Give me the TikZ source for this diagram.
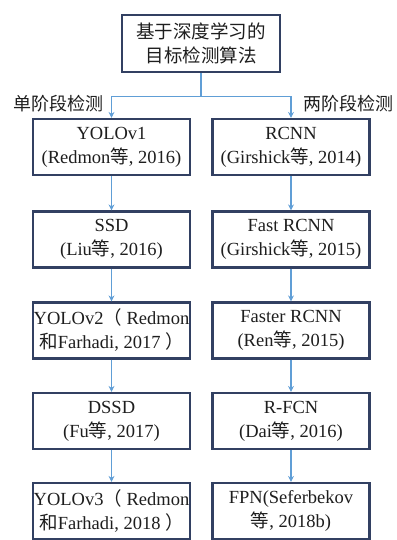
\documentclass[tikz,border=0pt]{standalone}
\usepackage{fontspec}
\setmainfont{Liberation Serif}
\newfontfamily\latinserif{Liberation Serif}
\newfontfamily\cjk{Noto Sans CJK SC}
\usetikzlibrary{arrows.meta}
\newcommand\zh[1]{{\cjk #1}}
\definecolor{boxline}{RGB}{50,64,98}
\definecolor{linkblue}{RGB}{96,158,214}
\definecolor{inkgray}{RGB}{30,30,30}
\tikzset{
  methodbox/.style={draw=boxline, line width=2.2bp, fill=white, minimum width=157bp,
    minimum height=56bp, inner sep=1bp, align=center, text=inkgray,
    font=\latinserif\fontsize{18.5bp}{24bp}\selectfont},
  link/.style={draw=linkblue, line width=1.1bp},
  linkarrow/.style={link, -{Stealth[length=6bp,width=6bp]}},
  branchlabel/.style={text=inkgray, inner sep=0pt, font=\fontsize{18bp}{24bp}\selectfont}
}
\begin{document}
\begin{tikzpicture}[x=1bp,y=-1bp]
  \useasboundingbox (0,0) rectangle (396,540);
  % root
  \node[methodbox, minimum width=158bp, minimum height=57bp] (root) at (201,43.5)
    {\zh{基于深度学习的}\\\zh{目标检测算法}};
  % one-stage column
  \node[methodbox] (L1) at (111.5,147)   {YOLOv1\\(Redmon\zh{等}, 2016)};
  \node[methodbox] (L2) at (111.5,239.5) {SSD\\(Liu\zh{等}, 2016)};
  \node[methodbox] (L3) at (111.5,330.5) {YOLOv2\zh{（} Redmon\\\zh{和}Farhadi, 2017 \zh{）}};
  \node[methodbox] (L4) at (111.5,421)   {DSSD\\(Fu\zh{等}, 2017)};
  \node[methodbox] (L5) at (111.5,511)   {YOLOv3\zh{（} Redmon\\\zh{和}Farhadi, 2018 \zh{）}};
  % two-stage column
  \node[methodbox] (R1) at (291,147)   {RCNN\\(Girshick\zh{等}, 2014)};
  \node[methodbox] (R2) at (291,239.5) {Fast RCNN\\(Girshick\zh{等}, 2015)};
  \node[methodbox] (R3) at (291,330.5) {Faster RCNN\\(Ren\zh{等}, 2015)};
  \node[methodbox] (R4) at (291,421)   {R-FCN\\(Dai\zh{等}, 2016)};
  \node[methodbox] (R5) at (291,511)   {FPN(Seferbekov\\\zh{等}, 2018b)};
  % branch labels
  \node[branchlabel] (oneStage) at (58,104) {\zh{单阶段检测}};
  \node[branchlabel] (twoStage) at (348,104) {\zh{两阶段检测}};
  % connectors
  \draw[link] (root.south) -- ++(0,23) coordinate (split);
  \draw[linkarrow] (split) -| (L1.north);
  \draw[linkarrow] (split) -| (R1.north);
  \foreach \a/\b in {L1/L2,L2/L3,L3/L4,L4/L5,R1/R2,R2/R3,R3/R4,R4/R5}
    \draw[linkarrow] (\a.south) -- (\b.north);
\end{tikzpicture}
\end{document}
